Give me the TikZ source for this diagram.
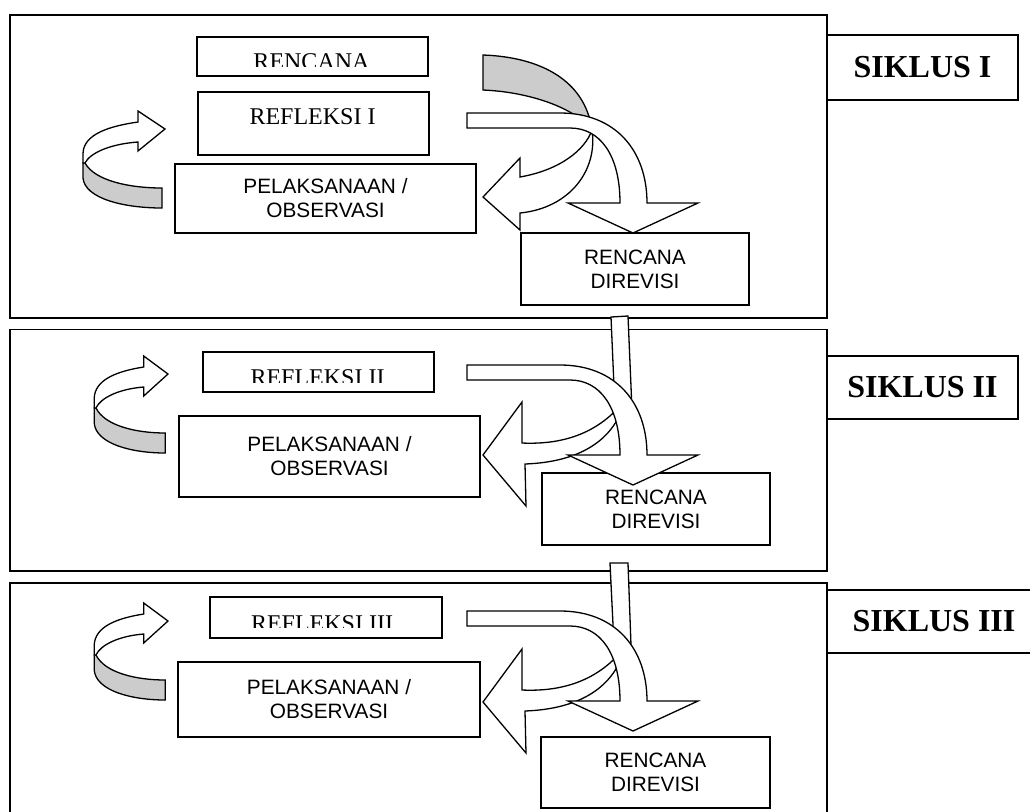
\documentclass[tikz,border=0pt]{standalone}
\usepackage{fontspec}
\setmainfont{Liberation Serif}
\setsansfont{Liberation Sans}

\begin{document}
\begin{tikzpicture}[x=0.5pt, y=-0.5pt,
  frame/.style={draw, line width=0.9pt},
  box/.style={draw, line width=0.9pt, inner sep=0pt},
  serif/.style={font=\fontsize{12}{14}\selectfont, inner sep=0pt},
  sans/.style={font=\sffamily\fontsize{10.4}{12}\selectfont, align=center},
  siklus/.style={font=\bfseries\fontsize{16}{19}\selectfont},
  shapeline/.style={draw, line width=0.65pt, fill=white},
  band/.style={draw, line width=0.65pt, fill=black!20}]
\useasboundingbox (0,0) rectangle (1030,811);
\clip (0,0) rectangle (1030,811);

% three cycles
\draw[frame] (10,15) rectangle (827,318);
\draw[frame] (10,329.5) rectangle (827,571);
\draw[frame] (10,583) rectangle (827,840);

\node[box, siklus, minimum width=95.5pt, minimum height=32.5pt] (siklus1) at (922.5,67.5) {SIKLUS I};
\node[box, siklus, minimum width=95.5pt, minimum height=31.5pt] (siklus2) at (922.5,387.5) {SIKLUS II};
\node[box, siklus, minimum width=107pt, minimum height=31.5pt] (siklus3) at (934,621.5) {SIKLUS III};

% cycle I
\node[box, minimum width=115.5pt, minimum height=19.5pt] (rencana) at (312.5,56.5) {};
\begin{scope}
\clip (197,37) rectangle (428,66);
\node[serif, anchor=base] (rencanatxt) at (311.5,69) {RENCANA};
\end{scope}
\node[box, minimum width=115.5pt, minimum height=31.5pt] (refleksi1) at (313.5,123.5) {};
\node[serif, anchor=base] (refleksi1txt) at (312.5,124.5) {REFLEKSI I};
\node[box, sans, minimum width=150.5pt, minimum height=34.5pt] (laksana1) at (325.5,198.5) {PELAKSANAAN /\\OBSERVASI};
\node[box, sans, minimum width=114pt, minimum height=36pt] (revisi1) at (635,269) {RENCANA\\DIREVISI};

% cycle II
\node[box, minimum width=115.8pt, minimum height=20pt] (refleksi2) at (318.5,371.7) {};
\begin{scope}
\clip (203,352) rectangle (434,382);
\node[serif, anchor=base] (refleksi2txt) at (317.5,385) {REFLEKSI II};
\end{scope}
\node[box, sans, minimum width=150.5pt, minimum height=40.5pt] (laksana2) at (329.5,456.5) {PELAKSANAAN /\\OBSERVASI};
\node[box, sans, minimum width=114pt, minimum height=36pt] (revisi2) at (656,509) {RENCANA\\DIREVISI};

% cycle III
\node[box, minimum width=115.8pt, minimum height=20.5pt] (refleksi3) at (325.8,617.2) {};
\begin{scope}
\clip (210,597) rectangle (442,627);
\node[serif, anchor=base] (refleksi3txt) at (322,631) {REFLEKSI III};
\end{scope}
\node[box, sans, minimum width=151pt, minimum height=37.5pt] (laksana3) at (329,699.5) {PELAKSANAAN /\\OBSERVASI};
\node[box, sans, minimum width=114.5pt, minimum height=35.5pt] (revisi3) at (655.5,772.5) {RENCANA\\DIREVISI};

% loop arrows on the left
\foreach \tx/\ty/\sx in {165/129/1, 168/374/0.9, 168/621/0.9}{
  \begin{scope}[shift={(\tx,\ty)}, xscale=\sx]
    \draw[band] (-80,34) .. controls (-70,52) and (-35,59) .. (-3,59) -- (-3,79)
      .. controls (-40,79) and (-80,70) .. (-82,49) -- (-82,34) -- cycle;
    \draw[shapeline] (-82,34) -- (-82,25) .. controls (-82,5) and (-55,-3) .. (-27,-7)
      -- (-27,-18) -- (0,0) -- (-27,22) -- (-27,13)
      .. controls (-55,15) and (-75,24) .. (-80,34) -- cycle;
  \end{scope}
}

% arrows back to the left
\draw[band] (483,55) .. controls (540,57) and (585,80) .. (592,130)
  .. controls (575,108) and (530,92) .. (483,90) -- cycle;
\draw[shapeline] (592,130) .. controls (598,170) and (570,208) .. (520,213) -- (520,230)
  -- (483,197) -- (520,158) -- (520,177) .. controls (560,170) and (585,150) .. (592,130) -- cycle;
\foreach \dy in {0,247}{
  \draw[shapeline, shift={(0,\dy)}] (625,400) .. controls (600,432) and (565,445) .. (522,443)
    -- (522,402) -- (483,455) -- (526,506) -- (525,464)
    .. controls (580,462) and (615,440) .. (625,400) -- cycle;
}

% links between the cycles
\draw[shapeline] (611,317) -- (628,316) -- (631.5,398) -- (614.5,398) -- cycle;
\draw[shapeline] (610,563) -- (628,563) -- (631,645) -- (614,645) -- cycle;

% arrows down to the revised plan
\foreach \dy in {0,252,498}{
  \draw[shapeline, shift={(0,\dy)}] (467,113) -- (560,113) .. controls (615,113) and (647,150) .. (647,203)
    -- (698,203) -- (633,233) -- (568,203) -- (620,203)
    .. controls (620,155) and (600,128) .. (570,128) -- (467,128) -- cycle;
}
\end{tikzpicture}
\end{document}
